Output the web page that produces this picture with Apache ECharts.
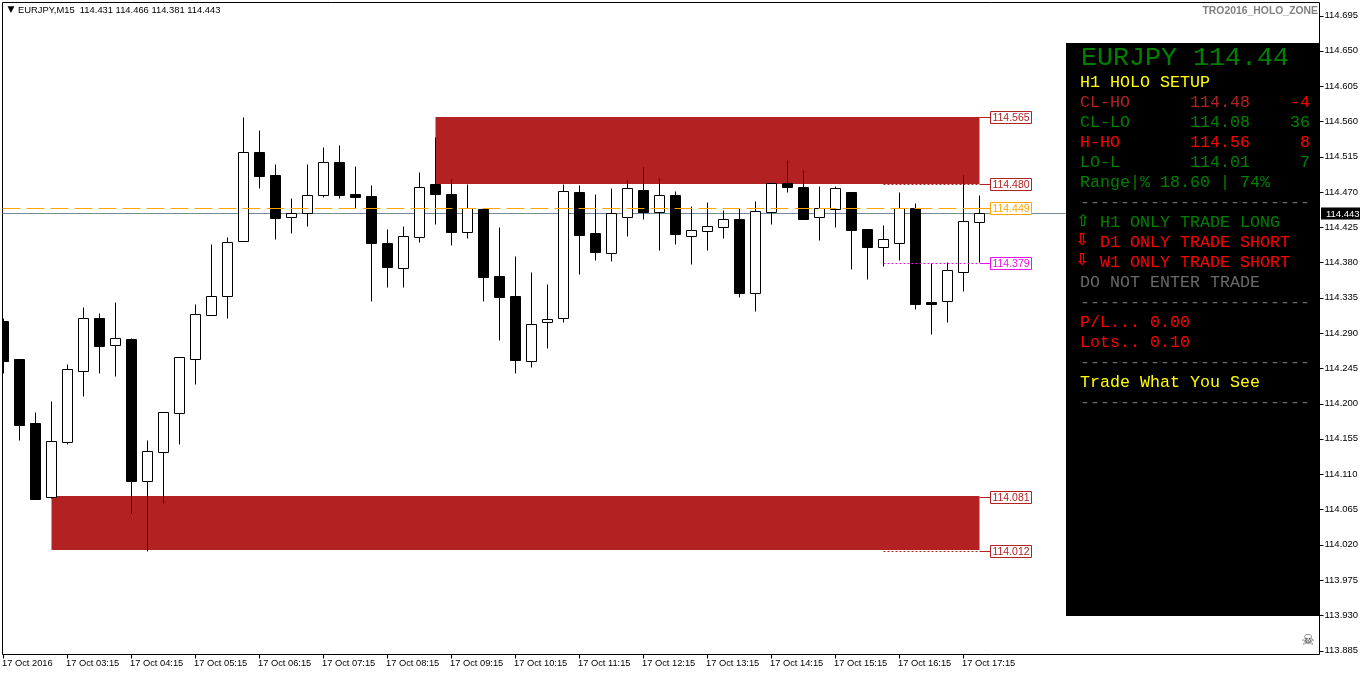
<!DOCTYPE html>
<html>
<head>
<meta charset="utf-8">
<title>EURJPY,M15</title>
<script src="https://cdn.jsdelivr.net/npm/echarts@6/dist/echarts.min.js"></script>
<style>
html, body { margin: 0; padding: 0; background: #fff; }
#chart { width: 1362px; height: 675px; }
</style>
</head>
<body>
<div id="chart"></div>
<script>
// candles, 15 minute bars
var opens = [114.305,114.257,114.175,114.081,114.151,114.242,114.309,114.275,114.282,114.101,114.138,114.188,114.257,114.313,114.337,114.407,114.521,114.492,114.438,114.443,114.466,114.508,114.467,114.465,114.405,114.373,114.413,114.480,114.467,114.419,114.448,114.363,114.337,114.254,114.304,114.309,114.470,114.418,114.392,114.438,114.472,114.444,114.466,114.414,114.420,114.425,114.435,114.341,114.444,114.481,114.476,114.438,114.448,114.470,114.423,114.400,114.405,114.449,114.330,114.331,114.368,114.431];
var highs = [114.309,114.257,114.189,114.203,114.251,114.323,114.316,114.330,114.284,114.154,114.189,114.259,114.327,114.404,114.413,114.566,114.549,114.506,114.462,114.506,114.527,114.530,114.503,114.479,114.423,114.427,114.495,114.540,114.486,114.480,114.448,114.425,114.388,114.368,114.353,114.480,114.479,114.467,114.475,114.485,114.502,114.488,114.471,114.452,114.457,114.447,114.449,114.458,114.481,114.511,114.498,114.478,114.478,114.470,114.423,114.428,114.470,114.456,114.379,114.381,114.492,114.466];
var lows = [114.239,114.154,114.078,114.080,114.148,114.210,114.239,114.235,114.060,114.012,114.073,114.148,114.225,114.313,114.309,114.407,114.475,114.410,114.418,114.427,114.464,114.462,114.449,114.331,114.349,114.349,114.406,114.429,114.402,114.411,114.331,114.281,114.239,114.247,114.271,114.304,114.365,114.383,114.382,114.414,114.435,114.396,114.404,114.378,114.396,114.411,114.336,114.318,114.429,114.470,114.435,114.409,114.425,114.372,114.359,114.376,114.383,114.321,114.289,114.304,114.344,114.381];
var closes = [114.254,114.173,114.078,114.152,114.244,114.309,114.273,114.284,114.101,114.140,114.189,114.259,114.314,114.337,114.406,114.521,114.490,114.437,114.443,114.466,114.508,114.466,114.464,114.405,114.374,114.414,114.476,114.467,114.419,114.449,114.361,114.336,114.256,114.302,114.308,114.471,114.415,114.393,114.443,114.475,114.444,114.466,114.416,114.421,114.427,114.435,114.341,114.446,114.481,114.476,114.435,114.449,114.475,114.421,114.400,114.410,114.449,114.327,114.327,114.370,114.433,114.443];

var timeLabels = ['17 Oct 2016','17 Oct 03:15','17 Oct 04:15','17 Oct 05:15','17 Oct 06:15','17 Oct 07:15','17 Oct 08:15','17 Oct 09:15','17 Oct 10:15','17 Oct 11:15','17 Oct 12:15','17 Oct 13:15','17 Oct 14:15','17 Oct 15:15','17 Oct 16:15','17 Oct 17:15'];
var priceTicks = [113.885,113.930,113.975,114.020,114.065,114.110,114.155,114.200,114.245,114.290,114.335,114.380,114.425,114.470,114.515,114.560,114.605,114.650,114.695];

// holo zones
var zoneFrom = [27, 3];
var zoneTo = [61, 61];
var zoneTop = [114.565, 114.081];
var zoneBottom = [114.480, 114.012];

// price tags on the right of the last bar
var levels = [114.565, 114.480, 114.449, 114.379, 114.081, 114.012];
var levelColors = ['#b22222', '#b22222', '#ffa500', '#ee11ee', '#b22222', '#b22222'];
var levelDotted = [false, true, false, true, false, true];

var lastPrice = 114.443;
var breakEven = 114.449;
var lastBar = 61;
var dotFrom = 55;

var candleData = opens.map(function (o, i) {
    return [i, o, highs[i], lows[i], closes[i]];
});
var zoneData = zoneFrom.map(function (f, i) {
    return [f, zoneTop[i], zoneTo[i], zoneBottom[i]];
});
var levelData = levels.map(function (v, i) {
    return [lastBar, v, i];
});
var tickData = priceTicks.map(function (v) {
    return [0, v];
});

var tagFont = '10.5px "Liberation Sans"';
var axisFont = 'Liberation Sans';

function renderCandle(params, api) {
    var i = api.value(0), o = api.value(1), h = api.value(2), l = api.value(3), c = api.value(4);
    var x = api.coord([i, o])[0];
    var yH = Math.round(api.coord([i, h])[1]) + 0.5;
    var yL = Math.round(api.coord([i, l])[1]) + 0.5;
    var yO = Math.round(api.coord([i, o])[1]) + 0.5;
    var yC = Math.round(api.coord([i, c])[1]) + 0.5;
    var top = Math.min(yO, yC), bot = Math.max(yO, yC);
    return {
        type: 'group',
        children: [
            { type: 'line', shape: { x1: x, y1: yH, x2: x, y2: yL }, style: { stroke: '#000', lineWidth: 1 } },
            { type: 'rect', shape: { x: x - 5, y: top, width: 10, height: bot - top },
              style: { fill: c > o ? '#fff' : '#000', stroke: '#000', lineWidth: 1 } }
        ]
    };
}

function renderZone(params, api) {
    var a = api.coord([api.value(0), api.value(1)]);
    var b = api.coord([api.value(2), api.value(3)]);
    var y1 = Math.floor(a[1]), y2 = Math.floor(b[1]);
    return {
        type: 'rect',
        shape: { x: a[0], y: y1, width: b[0] - a[0], height: y2 - y1 },
        style: { fill: '#b22222' }
    };
}

function renderLevel(params, api) {
    var idx = api.value(2);
    var p = api.coord([api.value(0), api.value(1)]);
    var x = p[0], y = Math.round(p[1]) + 0.5;
    var col = levelColors[idx];
    var kids = [
        { type: 'line', shape: { x1: x, y1: y, x2: x + 11, y2: y }, style: { stroke: col, lineWidth: 1 } },
        { type: 'rect', shape: { x: x + 11, y: y - 6, width: 41, height: 12 },
          style: { fill: '#fff', stroke: col, lineWidth: 1 } },
        { type: 'text', style: { text: api.value(1).toFixed(3), x: x + 31.5, y: y + 0.5, fill: col, font: tagFont,
          align: 'center', verticalAlign: 'middle' } }
    ];
    if (levelDotted[idx]) {
        var s = api.coord([dotFrom, api.value(1)]);
        kids.unshift({ type: 'line', shape: { x1: s[0], y1: y, x2: x, y2: y },
            style: { stroke: col, lineWidth: 1, lineDash: [2, 2] } });
    }
    return { type: 'group', children: kids };
}

// gray last price line, runs over to the scale
function renderLast(params, api) {
    var rect = params.coordSys;
    var y = Math.round(api.coord([0, api.value(1)])[1]) + 0.5;
    return { type: 'line', shape: { x1: rect.x, y1: y, x2: rect.x + rect.width, y2: y },
        style: { stroke: '#778899', lineWidth: 1 } };
}

function renderLastTag(params, api) {
    var rect = params.coordSys;
    var y = Math.round(api.coord([0, api.value(1)])[1]) + 0.5;
    var x = rect.x + rect.width + 1.5;
    return {
        type: 'group',
        children: [
            { type: 'rect', shape: { x: x, y: y - 6, width: 39, height: 12 }, style: { fill: '#000' } },
            { type: 'text', style: { text: api.value(1).toFixed(3), x: x + 5, y: y + 0.5, fill: '#fff',
              font: '9.5px "Liberation Sans"', align: 'left', verticalAlign: 'middle' } }
        ]
    };
}

function renderBreakEven(params, api) {
    var rect = params.coordSys;
    var x2 = api.coord([lastBar, api.value(1)])[0] + 11;
    var y = Math.round(api.coord([0, api.value(1)])[1]) + 0.5;
    return { type: 'line', shape: { x1: rect.x, y1: y, x2: x2, y2: y },
        style: { stroke: '#ffa500', lineWidth: 1, lineDash: [18, 6] } };
}

// price scale ticks on the right side
function renderPriceTick(params, api) {
    var rect = params.coordSys;
    var y = Math.round(api.coord([0, api.value(1)])[1]) + 0.5;
    var x = rect.x + rect.width;
    return { type: 'line', shape: { x1: x, y1: y, x2: x + 4, y2: y }, style: { stroke: '#000', lineWidth: 1 } };
}

// info panel
var monoSmall = '16.67px "Liberation Mono"';
var monoBig = '26.67px "Liberation Mono"';
var arrowFont = 'bold 16px "DejaVu Sans"';
var green = '#008000', red = '#ff0000', brick = '#b22222', yellow = '#ffff00', dim = '#696969';
var dashes = '-----------------------';

function panelText(s, x, y, color, font, align) {
    return { type: 'text', silent: true, z: 20,
        style: { text: s, x: x, y: y, fill: color, font: font || monoSmall, align: align || 'left', verticalAlign: 'middle' } };
}
function rowY(r) { return 83 + r * 20; }

var panel = [
    { type: 'rect', silent: true, z: 19, shape: { x: 1066, y: 43, width: 254, height: 573 }, style: { fill: '#000' } },
    panelText('EURJPY 114.44', 1081, 58, green, monoBig),
    panelText('H1 HOLO SETUP', 1080, rowY(0), yellow),
    panelText('CL-HO', 1080, rowY(1), brick), panelText('114.48', 1190, rowY(1), brick), panelText('-4', 1310, rowY(1), red, null, 'right'),
    panelText('CL-LO', 1080, rowY(2), green), panelText('114.08', 1190, rowY(2), green), panelText('36', 1310, rowY(2), green, null, 'right'),
    panelText('H-HO', 1080, rowY(3), red), panelText('114.56', 1190, rowY(3), red), panelText('8', 1310, rowY(3), red, null, 'right'),
    panelText('LO-L', 1080, rowY(4), green), panelText('114.01', 1190, rowY(4), green), panelText('7', 1310, rowY(4), green, null, 'right'),
    panelText('Range|% 18.60 | 74%', 1080, rowY(5), green),
    panelText(dashes, 1080, rowY(6), dim),
    panelText('\u21e7', 1083, rowY(7) - 1, green, arrowFont, 'center'), panelText('H1 ONLY TRADE LONG', 1100, rowY(7), green),
    panelText('\u21e9', 1082, rowY(8) - 2, red, arrowFont, 'center'), panelText('D1 ONLY TRADE SHORT', 1100, rowY(8), red),
    panelText('\u21e9', 1082, rowY(9) - 2, red, arrowFont, 'center'), panelText('W1 ONLY TRADE SHORT', 1100, rowY(9), red),
    panelText('DO NOT ENTER TRADE', 1080, rowY(10), dim),
    panelText(dashes, 1080, rowY(11), dim),
    panelText('P/L... 0.00', 1080, rowY(12), red),
    panelText('Lots.. 0.10', 1080, rowY(13), red),
    panelText(dashes, 1080, rowY(14), dim),
    panelText('Trade What You See', 1080, rowY(15), yellow),
    panelText(dashes, 1080, rowY(16), dim),
    panelText('\u25bc', 11, 10, '#000', '9px "DejaVu Sans"', 'center'),
    panelText('EURJPY,M15  114.431 114.466 114.381 114.443', 18, 10, '#000', '9.4px "Liberation Sans"'),
    panelText('TRO2016_HOLO_ZONE', 1318, 11, '#808080', 'bold 10.4px "Liberation Sans"', 'right'),
    panelText('\u2620', 1308, 641, '#444', 'bold 15px "DejaVu Sans"', 'center')
];

var chart = echarts.init(document.getElementById('chart'));
var option = {
    animation: false,
    backgroundColor: '#fff',
    grid: { left: 2.5, top: 2.5, width: 1317, height: 652, show: true, borderColor: '#000', borderWidth: 1, containLabel: false, outerBoundsMode: 'none' },
    xAxis: {
        type: 'value',
        min: -0.0625,
        max: 82.25,
        splitLine: { show: false },
        axisLine: { show: false },
        axisTick: { show: true, length: 4, lineStyle: { color: '#000' }, customValues: timeLabels.map(function (t, i) { return i * 4; }) },
        axisLabel: {
            color: '#000', fontFamily: axisFont, fontSize: 9.3, align: 'left', margin: 4, padding: [0, 0, 0, -1.5],
            customValues: timeLabels.map(function (t, i) { return i * 4; }),
            formatter: function (v) { return timeLabels[v / 4]; }
        }
    },
    yAxis: {
        type: 'value',
        position: 'right',
        min: 113.8799,
        max: 114.7116,
        splitLine: { show: false },
        axisLine: { show: false },
        axisTick: { show: false },
        axisLabel: {
            color: '#000', fontFamily: axisFont, fontSize: 9.5, margin: 5,
            customValues: priceTicks,
            formatter: function (v) { return v.toFixed(3); }
        }
    },
    graphic: panel,
    series: [
        { type: 'custom', name: 'zones', z: 1, clip: true, silent: true, renderItem: renderZone, data: zoneData, encode: { x: [0, 2], y: [1, 3] } },
        { type: 'custom', name: 'last', z: 2, clip: true, silent: true, renderItem: renderLast, data: [[0, lastPrice]], encode: { x: 0, y: 1 } },
        { type: 'custom', name: 'candles', z: 3, clip: true, silent: true, renderItem: renderCandle, data: candleData, encode: { x: 0, y: [1, 2, 3, 4] } },
        { type: 'custom', name: 'breakEven', z: 4, clip: true, silent: true, renderItem: renderBreakEven, data: [[0, breakEven]], encode: { x: 0, y: 1 } },
        { type: 'custom', name: 'levels', z: 5, silent: true, renderItem: renderLevel, data: levelData, encode: { x: 0, y: 1 } },
        { type: 'custom', name: 'priceTicks', z: 5, silent: true, renderItem: renderPriceTick, data: tickData, encode: { x: 0, y: 1 } },
        { type: 'custom', name: 'lastTag', z: 6, silent: true, renderItem: renderLastTag, data: [[0, lastPrice]], encode: { x: 0, y: 1 } }
    ]
};
chart.setOption(option);
</script>
</body>
</html>
